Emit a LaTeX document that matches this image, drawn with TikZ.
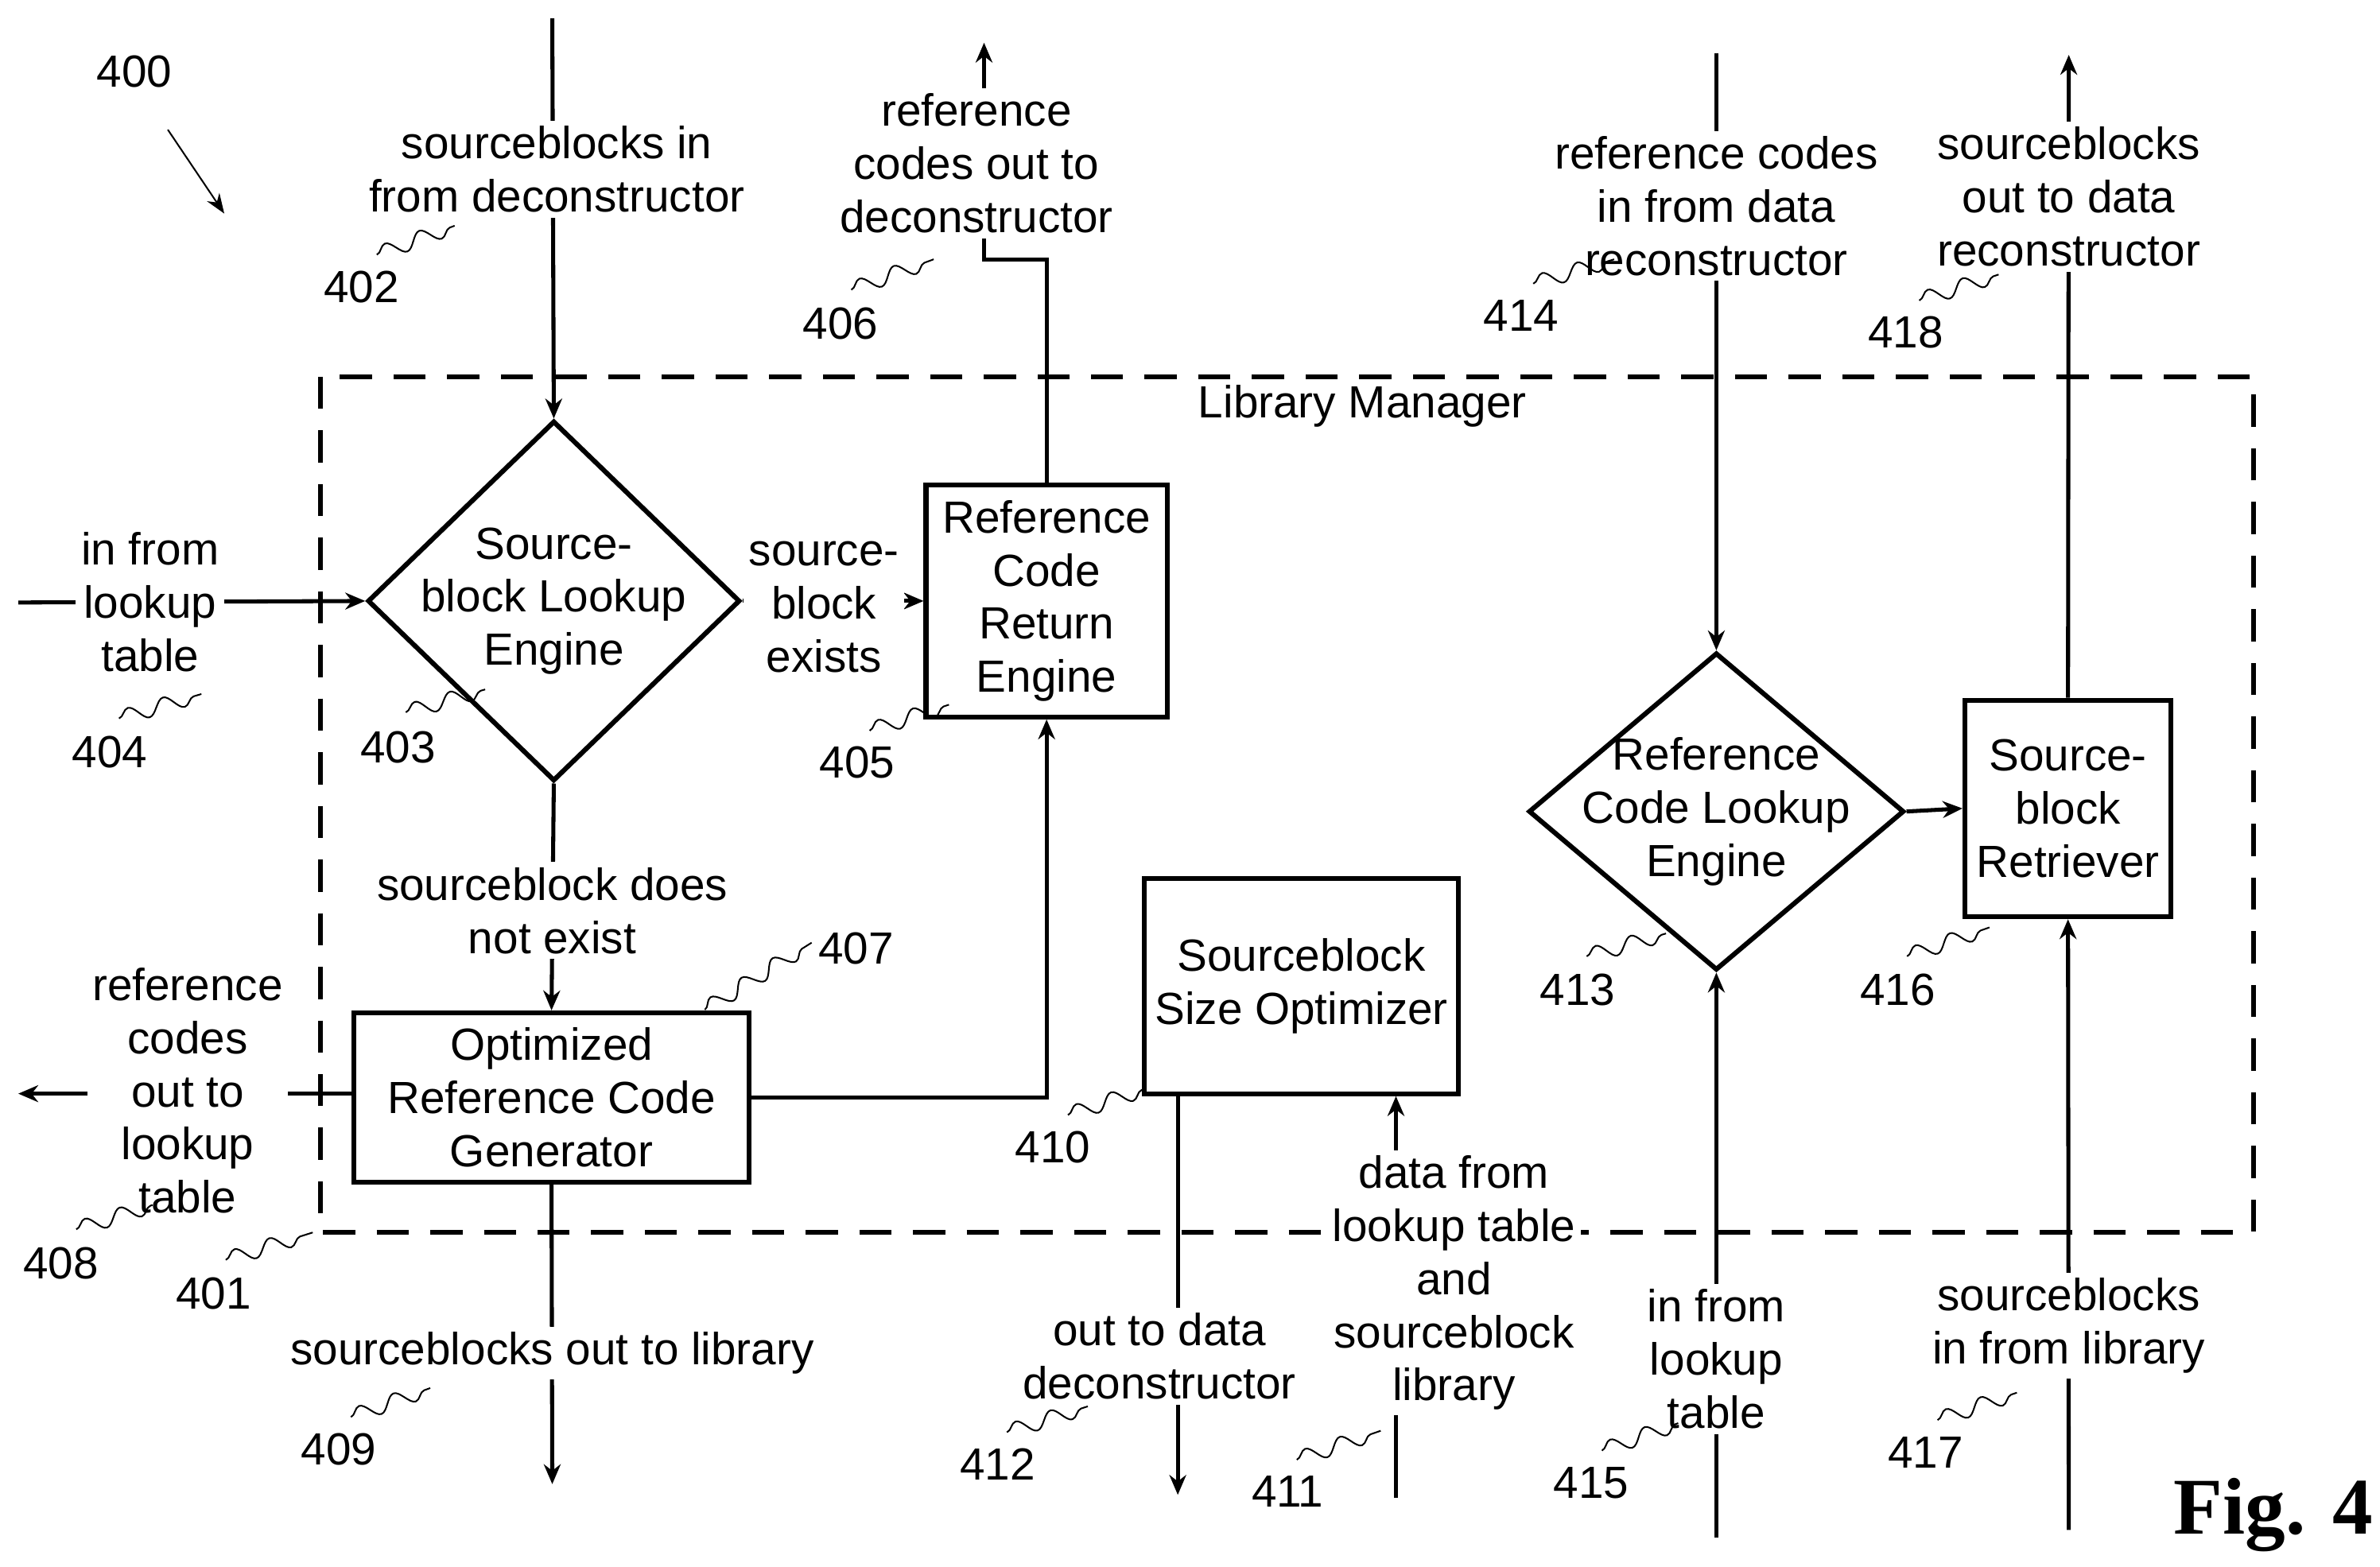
\documentclass[tikz,border=0pt]{standalone}
\usepackage{fontspec}
\setmainfont{Liberation Sans}
\usetikzlibrary{shapes.geometric,arrows.meta,decorations.pathmorphing}
\begin{document}
\begin{tikzpicture}[x=0.01cm,y=-0.01cm,
  every node/.style={font=\fontsize{8.4}{9.9}\selectfont,align=center,inner sep=1pt},
  ln/.style={line width=0.75pt},
  arr/.style={ln,-{Stealth[length=1.3mm,width=1.1mm]}},
  box/.style={draw,line width=0.9pt,rectangle,inner sep=0},
  dia/.style={draw,line width=0.9pt,diamond,inner sep=0},
  lab/.style={fill=white,inner sep=1pt},
  sq/.style={line width=0.3pt,decorate,decoration={snake,amplitude=0.5mm,segment length=2.4mm}}]
\useasboundingbox (0,0) rectangle (1560,1027);
% frame
\draw[line width=0.9pt,dash pattern=on 6pt off 4pt] (210,247) rectangle (1477,808);
\node (lm) at (893,266) {Library Manager};
% shapes
\node[dia,minimum width=2.44cm,minimum height=2.36cm] (d1) at (363,394) {};
\node at (d1) {Source-\\block Lookup\\Engine};
\node[box,minimum width=1.58cm,minimum height=1.52cm] (b405) at (686,394) {Reference\\Code\\Return\\Engine};
\node[box,minimum width=2.59cm,minimum height=1.11cm] (b407) at (361.5,719.5) {Optimized\\Reference Code\\Generator};
\node[box,minimum width=2.06cm,minimum height=1.41cm] (b410) at (853,646.5) {Sourceblock\\Size Optimizer};
\node[dia,minimum width=2.46cm,minimum height=2.08cm] (d2) at (1125,532) {};
\node at (d2) {Reference\\Code Lookup\\Engine};
\node[box,minimum width=1.35cm,minimum height=1.42cm] (b416) at (1355.5,530) {Source-\\block\\Retriever};
% coordinates
\coordinate (t402) at (362,12);
\coordinate (c406a) at (645,170);
\coordinate (t406) at (645,28);
\coordinate (l404) at (12,395);
\coordinate (l408) at (12,717);
\coordinate (e409) at (362,973);
\coordinate (e412) at (772,980);
\coordinate (s411) at (915,982);
\coordinate (t414) at (1125,35);
\coordinate (s415) at (1125,1008);
\coordinate (t418) at (1356,36);
\coordinate (s417) at (1356,1003);
% connectors
\draw[arr] (t402) -- (d1.north);
\node[lab] at (365,111) {sourceblocks in\\from deconstructor};
\draw[arr] (b405.north) |- (c406a) -- (t406);
\node[lab] at (640,107) {reference\\codes out to\\deconstructor};
\draw[arr] (l404) -- (d1.west) node[lab,pos=0.38] {in from\\lookup\\table};
\draw[arr] (d1.east) -- (b405.west) node[lab,pos=0.45,yshift=-0.04cm] {source-\\block\\exists};
\draw[arr] (d1.south) -- (b407.north);
\node[lab] at (362,597) {sourceblock does\\not exist};
\draw[arr] (b407.west |- l408) -- (l408);
\node[lab] at (123,715) {reference\\codes\\out to\\lookup\\table};
\draw[arr] (b407.east) -| (b405.south);
\draw[arr] (b407.south) -- (e409);
\node[lab] at (362,887) {sourceblocks out to library};
\draw[arr] (b410.south -| e412) -- (e412);
\node[lab] at (760,889) {out to data\\deconstructor};
\draw[arr] (s411) -- (b410.south -| s411);
\node[lab] at (953,841) {data from\\lookup table\\and\\sourceblock\\library};
\draw[arr] (t414) -- (d2.north);
\node[lab] at (1125,135) {reference codes\\in from data\\reconstructor};
\draw[arr] (s415) -- (d2.south);
\node[lab] at (1125,891) {in from\\lookup\\table};
\draw[arr] (d2.east) -- (b416.west);
\draw[arr] (b416.north) -- (t418);
\node[lab] at (1356,129) {sourceblocks\\out to data\\reconstructor};
\draw[arr] (s417) -- (b416.south);
\node[lab] at (1356,869) {sourceblocks\\in from library};
% figure number
\node (n400) at (88,47) {400};
\draw[line width=0.3pt,-{Stealth[length=1.3mm]}] (110,85) -- (147,140);
% reference numerals with squiggles
\foreach \t/\tx/\ty/\ax/\ay/\bx/\by in {
 402/237/188/247/167/298/148, 406/551/212/558/190/612/170, 414/997/207/1005/186/1058/170,
 418/1249/218/1258/197/1310/180, 404/72/493/78/471/132/455, 403/261/490/266/467/318/452,
 405/562/500/570/479/622/462, 407/561/622/462/662/532/618, 410/690/752/700/731/750/714,
 413/1034/649/1040/627/1092/612, 416/1244/649/1250/627/1304/608, 408/40/828/50/806/100/790,
 401/140/848/148/826/205/808, 409/222/950/230/929/282/910, 412/654/960/660/939/713/922,
 411/844/978/850/957/905/938, 415/1043/972/1050/951/1100/933, 417/1262/952/1270/931/1322/913}{
 \node (r\t) at (\tx,\ty) {\t};
 \draw[sq] (\ax,\ay) -- (\bx,\by);
}
\node[anchor=east,inner sep=0,font=\fontspec{Liberation Serif}\bfseries\fontsize{15}{15}\selectfont] (fig) at (1556,993) {Fig. 4};
\end{tikzpicture}
\end{document}
